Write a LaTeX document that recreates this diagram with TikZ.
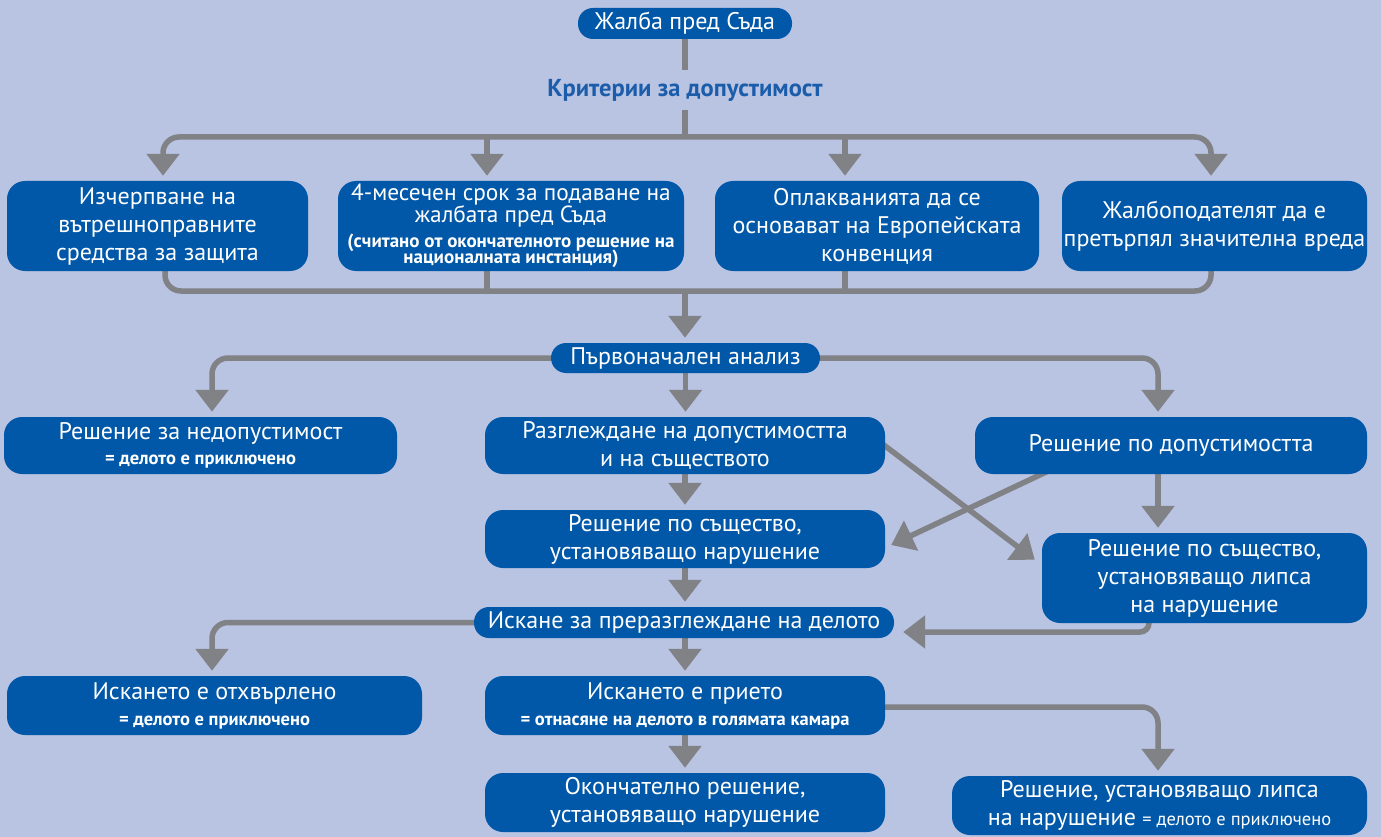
\documentclass[tikz,border=0pt]{standalone}
\usepackage{fontspec}
\setmainfont{PT Sans}
\usetikzlibrary{arrows.meta,calc}
\definecolor{bgc}{HTML}{B9C3E2}
\definecolor{boxb}{HTML}{0158A8}
\definecolor{gr}{HTML}{818286}
\definecolor{kt}{HTML}{1B5DAA}
\pgfdeclarelayer{back}
\pgfdeclarelayer{lines}
\pgfsetlayers{back,lines,main}
\newcommand\smb{\fontsize{18.5}{18.5}\selectfont\bfseries}
\newcommand\smr{\fontsize{18.5}{18.5}\selectfont}
\newcommand\smbb{\fontsize{19}{19}\selectfont\bfseries}
\begin{document}
\begin{tikzpicture}[x=1pt,y=-1pt,
  box/.style={fill=boxb, rounded corners=18pt, text=white, align=center, inner sep=0pt,
    font=\fontsize{24}{28}\selectfont},
  pill/.style={box, rounded corners=15pt},
  ln/.style={draw=gr, line width=5.5pt},
  arr/.style={ln, -{Triangle[width=32pt,length=22pt]}, shorten >=5pt},
  ]
\begin{pgfonlayer}{back}
\fill[bgc] (0,0) rectangle (1381,837);
\end{pgfonlayer}
\useasboundingbox (0,0) rectangle (1381,837);

% nodes
\node[pill, minimum width=214, minimum height=31] (zh) at (685,23.5) {Жалба пред Съда};
\node[text=kt, font=\fontsize{24.5}{26}\selectfont\bfseries, inner sep=0pt, minimum height=40] (krit) at (685,90) {Критерии за допустимост};

\node[box, minimum width=301, minimum height=90] (b1) at (157.5,226)
  {Изчерпване на\\вътрешноправните\\средства за защита};
\node[box, minimum width=346, minimum height=90, font=\fontsize{23.3}{28}\selectfont] (b2) at (511,226)
  {4-месечен срок за подаване на\\[-6pt]жалбата пред Съда\\[-3pt]
   {\smbb (считано от окончателното решение на}\\[-12pt]{\smbb националната инстанция)}};
\node[box, minimum width=324, minimum height=90] (b3) at (877,226)
  {Оплакванията да се\\основават на Европейската\\конвенция};
\node[box, minimum width=305, minimum height=90] (b4) at (1214.5,226)
  {Жалбоподателят да е\\претърпял значителна вреда};

\node[pill, minimum width=269, minimum height=30] (an) at (685.5,358) {Първоначален анализ};

\node[box, minimum width=393, minimum height=57] (nd) at (200.5,445.5)
  {Решение за недопустимост\\[-3pt]{\smb = делото е приключено}};
\node[box, minimum width=400, minimum height=57] (r1) at (685,445.5)
  {Разглеждане на допустимостта\\и на съществото};
\node[box, minimum width=392, minimum height=57] (rd) at (1171,445.5)
  {Решение по допустимостта};

\node[box, minimum width=400, minimum height=58] (s1) at (685,539)
  {Решение по същество,\\установяващо нарушение};
\node[box, minimum width=325, minimum height=90] (lnn) at (1204.5,578)
  {Решение по същество,\\установяващо липса\\на нарушение};

\node[pill, minimum width=420, minimum height=31] (isk) at (684,622.5)
  {Искане за преразглеждане на делото};

\node[box, minimum width=415, minimum height=59] (ot) at (214.5,705.5)
  {Искането е отхвърлено\\[-2pt]{\smb = делото е приключено}};
\node[box, minimum width=400, minimum height=59] (pr) at (685,705.5)
  {Искането е прието\\[-2pt]{\smb = отнасяне на делото в голямата камара}};

\node[box, minimum width=400, minimum height=59] (ok) at (685,802.5)
  {Окончателно решение,\\установяващо нарушение};
\node[box, minimum width=415, minimum height=59] (f2) at (1159.5,805.5)
  {Решение, установяващо липса\\на нарушение {\smr = делото е приключено}};

\coordinate (t) at (685,137);
\coordinate (m) at (685,291);

\begin{pgfonlayer}{lines}
\draw[ln] (zh) -- (krit);
\draw[ln] (krit) -- (t);
\draw[arr, rounded corners=16] (t) -| ([xshift=5.5]b1.north);
\draw[arr] ([xshift=-24]b2.north |- t) -- ([xshift=-24]b2.north);
\draw[arr] ([xshift=-32]b3.north |- t) -- ([xshift=-32]b3.north);
\draw[arr, rounded corners=16] (t) -| ([xshift=-3.5]b4.north);

\draw[ln, rounded corners=16] ([xshift=7.5]b1.south) |- (m) -| ([xshift=-3.5]b4.south);
\draw[ln] ([xshift=-24]b2.south) -- ([xshift=-24]b2.south |- m);
\draw[ln] ([xshift=-32]b3.south) -- ([xshift=-32]b3.south |- m);
\draw[arr] (m) -- (m |- an.north);

\draw[arr, rounded corners=16] (an.west) -| ([xshift=11.5]nd.north);
\draw[arr, rounded corners=16] (an.east) -| ([xshift=-13]rd.north);
\draw[arr] (an.south) -- (an.south |- r1.north);

\draw[arr] (r1) -- (s1);
\draw[arr] (s1.south) -- (s1.south |- isk.north);
\draw[arr] ([xshift=-13]rd.south) -- ([xshift=-13]rd.south |- lnn.north);

\draw[arr, shorten >=0pt] ([xshift=-4,yshift=2.5]r1.east) -- ([xshift=-7,yshift=-27]lnn.north west);
\draw[arr, shorten >=0pt] ([xshift=-121,yshift=4]rd.south) -- ([xshift=6,yshift=-6]s1.east);

\draw[arr, shorten >=0pt, rounded corners=9] ([xshift=-55.5]lnn.south) |- ([xshift=9,yshift=-9.5]isk.east);

\draw[arr, rounded corners=16] (isk.west) -| ([xshift=-2.5]ot.north);
\draw[arr] ([xshift=1]isk.south) -- ([xshift=1]isk.south |- pr.north);
\draw[arr, rounded corners=16] ([yshift=-1.5]pr.east) -| ([xshift=-1.5]f2.north);
\draw[arr] (pr) -- (ok);
\end{pgfonlayer}
\end{tikzpicture}
\end{document}
